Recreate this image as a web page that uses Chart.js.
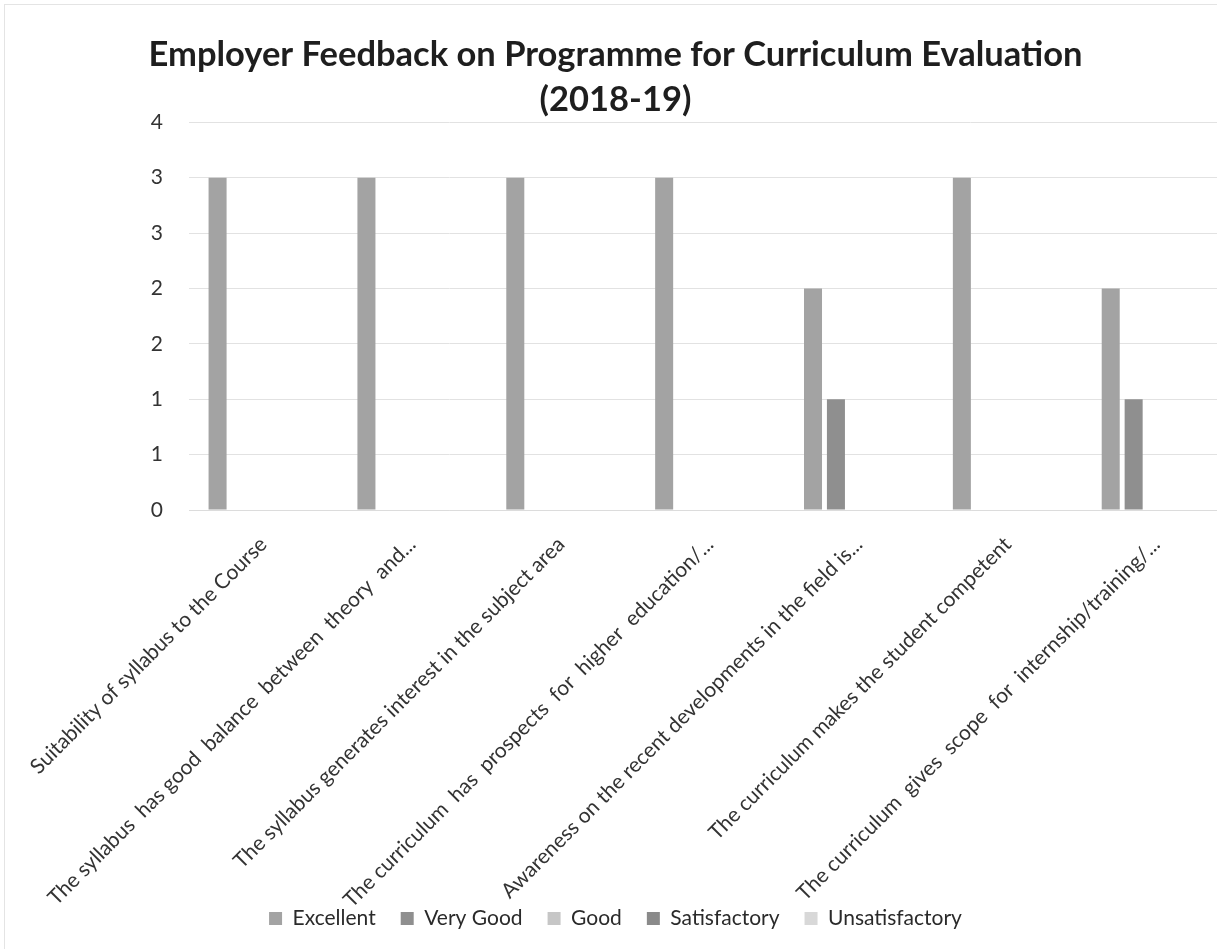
<!DOCTYPE html>
<html>
<head>
<meta charset="utf-8">
<script src="https://cdn.jsdelivr.net/npm/chart.js@4.4.1/dist/chart.umd.min.js"></script>
<style>
    html, body { margin: 0; background: #fff; overflow: hidden; }
    #wrap { width: 1236px; height: 949px; }
</style>
</head>
<body>
<div id="wrap"><canvas id="app-chart" width="1236" height="949"></canvas></div>
<script>
//======================================================================================================================
// Data
//======================================================================================================================

var categories = [
    'Suitability of syllabus to the Course',
    'The syllabus  has good  balance  between  theory  and...',
    'The syllabus generates interest in the subject area',
    'The curriculum  has  prospects  for  higher  education/...',
    'Awareness on the recent developments in the field is...',
    'The curriculum makes the student competent',
    'The curriculum  gives  scope  for  internship/training/...'
];
var seriesNames = ['Excellent', 'Very Good', 'Good', 'Satisfactory', 'Unsatisfactory'];
var excellent = [3, 3, 3, 3, 2, 3, 2];
var veryGood = [0, 0, 0, 0, 1, 0, 1];
var good = [0, 0, 0, 0, 0, 0, 0];
var satisfactory = [0, 0, 0, 0, 0, 0, 0];
var unsatisfactory = [0, 0, 0, 0, 0, 0, 0];
var yTicks = [0, 0.5, 1, 1.5, 2, 2.5, 3, 3.5];

var colors = ['#a3a3a3', '#8f8f8f', '#c6c6c6', '#8a8a8a', '#d8d8d8'];

//======================================================================================================================
// Chart
//======================================================================================================================

Chart.defaults.font.family = 'Lato, "Open Sans", sans-serif';

// white sheet with the faint frame of the scanned chart
var paper = {
    id: 'paper',
    beforeDraw: function(chart) {
        var ctx = chart.ctx;
        ctx.save();
        ctx.fillStyle = '#fff';
        ctx.fillRect(0, 0, chart.width, chart.height);
        ctx.strokeStyle = '#e4e4e4';
        ctx.lineWidth = 1;
        ctx.strokeRect(4.5, 4.5, chart.width + 10, chart.height + 10);
        ctx.restore();
    }
};

new Chart(document.getElementById('app-chart'), {
    type: 'bar',
    plugins: [paper],
    data: {
        labels: categories,
        datasets: [excellent, veryGood, good, satisfactory, unsatisfactory].map(function(values, i) {
            return {
                label: seriesNames[i],
                data: values,
                backgroundColor: colors[i],
                borderWidth: 0,
                categoryPercentage: 0.77,
                barPercentage: 0.786
            };
        })
    },
    options: {
        responsive: false,
        animation: false,
        layout: {
            padding: { left: 0, right: 5, top: 0, bottom: 10 }
        },
        plugins: {
            title: {
                display: true,
                text: ['Employer Feedback on Programme for Curriculum Evaluation', '(2018-19)'],
                color: '#1e1e1e',
                font: { size: 34.5, weight: 'bold', lineHeight: 1.3 },
                padding: { top: 32.6, bottom: 0 }
            },
            legend: {
                position: 'bottom',
                labels: {
                    boxWidth: 13,
                    boxHeight: 13,
                    padding: 25,
                    color: '#2a2a2a',
                    font: { size: 21 }
                }
            },
            tooltip: { enabled: false }
        },
        scales: {
            x: {
                grid: { display: false },
                border: { color: '#dcdcdc' },
                ticks: {
                    autoSkip: false,
                    minRotation: 45,
                    maxRotation: 45,
                    padding: 14,
                    color: '#333',
                    font: { size: 21 }
                },
                afterFit: function(scale) {
                    scale.height = 373;
                    // long labels run down into the legend, as in the original
                    scale._computeLabelArea = function() {};
                }
            },
            y: {
                min: 0,
                max: 3.5,
                afterBuildTicks: function(scale) {
                    scale.ticks = yTicks.map(function(v) { return { value: v }; });
                },
                grid: { color: '#e2e2e2', drawTicks: false },
                border: { display: false },
                ticks: {
                    padding: 26,
                    color: '#333',
                    font: { size: 21 },
                    callback: function(value) {
                        return Math.round(value);
                    }
                },
                afterFit: function(scale) {
                    scale.width = 189;
                }
            }
        }
    }
});
</script>
</body>
</html>
